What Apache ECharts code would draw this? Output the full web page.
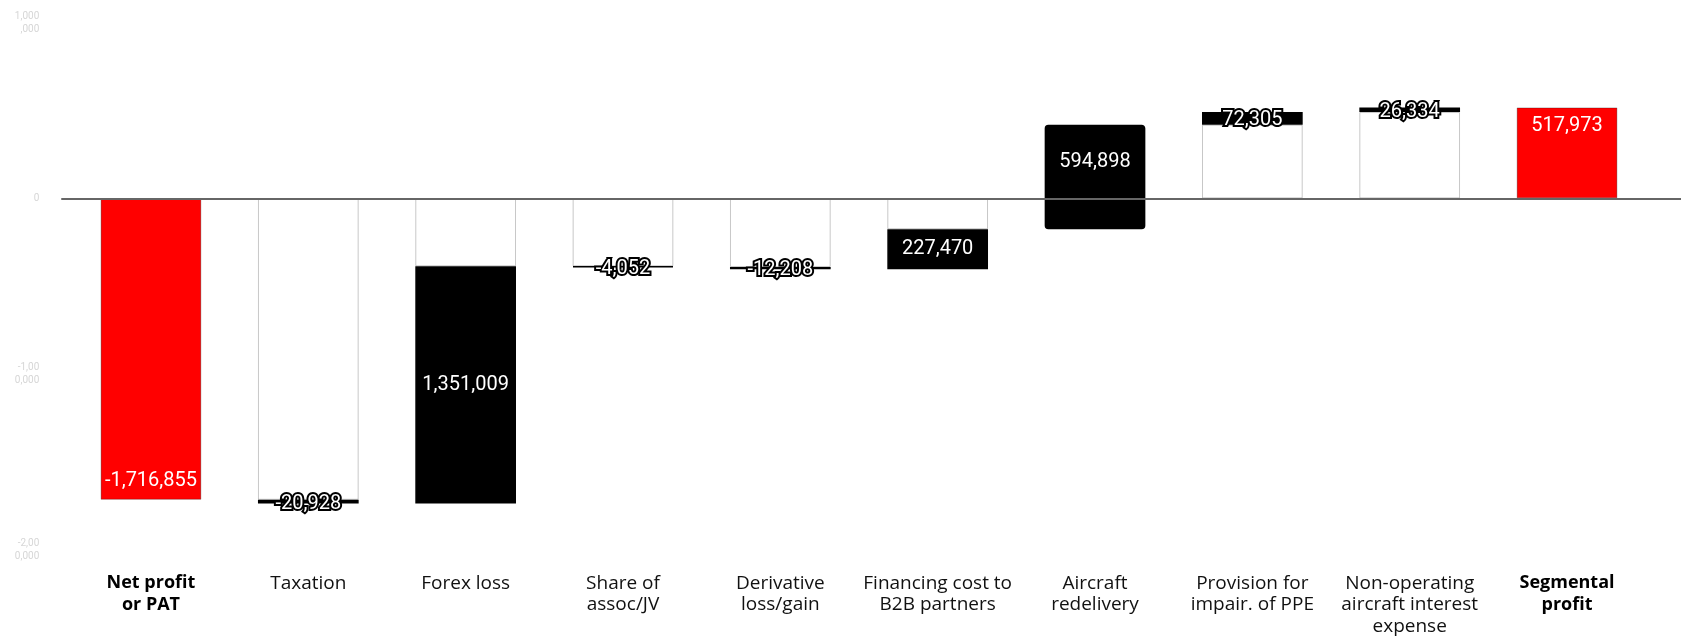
<!DOCTYPE html>
<html>
<head>
<meta charset="utf-8">
<script src="https://cdn.jsdelivr.net/npm/echarts@6/dist/echarts.min.js"></script>
<style>
  html, body { margin: 0; padding: 0; background: #ffffff; }
  #chart { width: 1681px; height: 637px; }
</style>
</head>
<body>
<div id="chart"></div>
<script>
// Bridge from net profit (PAT) to segmental profit
const categories = [
  'Net profit\nor PAT', 'Taxation', 'Forex loss', 'Share of\nassoc/JV',
  'Derivative\nloss/gain', 'Financing cost to\nB2B partners', 'Aircraft\nredelivery',
  'Provision for\nimpair. of PPE', 'Non-operating\naircraft interest\nexpense', 'Segmental\nprofit'
];
// first and last entries are totals, the rest are adjustments
const values = [-1716855, -20928, 1351009, -4052, -12208, 227470, 594898, 72305, 26334, 517973];
const isTotal = [true, false, false, false, false, false, false, false, false, true];
const boldLabels = [true, false, false, false, false, false, false, false, false, true];
const yTicks = { min: -2000000, max: 1000000, interval: 1000000 };

const fmt = v => v.toLocaleString('en-US');
const RED = '#ff0000', BLACK = '#000000';

const bigLabel = { show: true, color: '#ffffff', fontSize: 20, fontFamily: 'Roboto' };
const smallLabel = {
  show: true, position: 'inside', color: '#ffffff', fontSize: 20, fontFamily: 'Roboto',
  textBorderColor: '#000000', textBorderWidth: 4, offset: [0, 2]
};

const totalData = [], baseData = [], stepData = [], stepUpData = [];
let running = 0;
values.forEach((v, i) => {
  if (isTotal[i]) {
    running = v;
    totalData.push({ value: v, label: Object.assign({}, bigLabel, {
      position: v < 0 ? 'insideBottom' : 'insideTop', distance: 9,
      formatter: fmt(v)
    }) });
    baseData.push('-'); stepData.push('-'); stepUpData.push('-');
    return;
  }
  const a = running, b = running + v;
  running = b;
  const lo = Math.min(a, b), hi = Math.max(a, b);
  const lab = Object.assign({}, Math.abs(v) < 100000 ? smallLabel : bigLabel,
    { position: 'inside', formatter: fmt(v) });
  totalData.push('-');
  if (lo >= 0) {
    baseData.push(lo);
    stepData.push({ value: hi - lo, label: lab });
    stepUpData.push('-');
  } else if (hi <= 0) {
    baseData.push(hi);
    stepData.push({ value: lo - hi, label: lab });
    stepUpData.push('-');
  } else {
    // step crosses zero: split into a negative and a positive segment
    baseData.push('-');
    stepData.push({ value: lo, itemStyle: { borderRadius: [0, 0, 3, 3] }, label: { show: false } });
    stepUpData.push({ value: hi, itemStyle: { borderRadius: [3, 3, 0, 0] }, label: lab });
  }
});

const chart = echarts.init(document.getElementById('chart'), null, { renderer: 'canvas' });

const barCommon = { type: 'bar', stack: 'bridge', barWidth: '64%', xAxisIndex: 0, yAxisIndex: 0 };

chart.setOption({
  animation: false,
  backgroundColor: '#ffffff',
  grid: [
    { left: 72.3, right: 35.3, top: 22.8, bottom: 87 },
    { left: 62, right: 0, top: 22.8, bottom: 87 }
  ],
  xAxis: [
    {
      type: 'category', data: categories, gridIndex: 0,
      axisLine: { show: false, onZero: false }, axisTick: { show: false },
      axisLabel: {
        interval: 0, margin: 23, color: '#111111', fontSize: 19, lineHeight: 21.5,
        fontFamily: 'Open Sans',
        formatter: (val, idx) => boldLabels[idx] ? '{b|' + val.split('\n').join('}\n{b|') + '}' : val,
        rich: { b: { fontWeight: 'bold', fontSize: 18, lineHeight: 21.5, fontFamily: 'Open Sans', color: '#000000' } }
      }
    },
    {
      // zero baseline spanning the full width
      type: 'value', gridIndex: 1, min: 0, max: 1, z: 10,
      axisLine: { show: true, onZero: true, lineStyle: { color: '#666666', width: 2 } },
      axisTick: { show: false }, axisLabel: { show: false }, splitLine: { show: false }
    }
  ],
  yAxis: [
    {
      type: 'value', gridIndex: 0, min: yTicks.min, max: yTicks.max, interval: yTicks.interval,
      axisLine: { show: false }, axisTick: { show: false }, splitLine: { show: false },
      axisLabel: {
        margin: 33, color: '#d6d6d6', fontSize: 10, lineHeight: 13, fontFamily: 'Roboto',
        width: 26, overflow: 'breakAll', formatter: v => fmt(v)
      }
    },
    {
      type: 'value', gridIndex: 1, min: yTicks.min, max: yTicks.max,
      show: false
    }
  ],
  series: [
    Object.assign({}, barCommon, {
      name: 'Total', data: totalData,
      itemStyle: { color: RED, borderColor: 'rgba(0,0,0,0.28)', borderWidth: 1 }
    }),
    Object.assign({}, barCommon, {
      name: 'Base', data: baseData,
      itemStyle: { color: '#ffffff', borderColor: 'rgba(0,0,0,0.22)', borderWidth: 1 },
      label: { show: false }
    }),
    Object.assign({}, barCommon, {
      name: 'Step', data: stepData,
      itemStyle: { color: BLACK, borderColor: BLACK, borderWidth: 1.5 }
    }),
    Object.assign({}, barCommon, {
      name: 'StepUp', data: stepUpData,
      itemStyle: { color: BLACK, borderColor: BLACK, borderWidth: 1.5 }
    })
  ]
});
</script>
</body>
</html>
